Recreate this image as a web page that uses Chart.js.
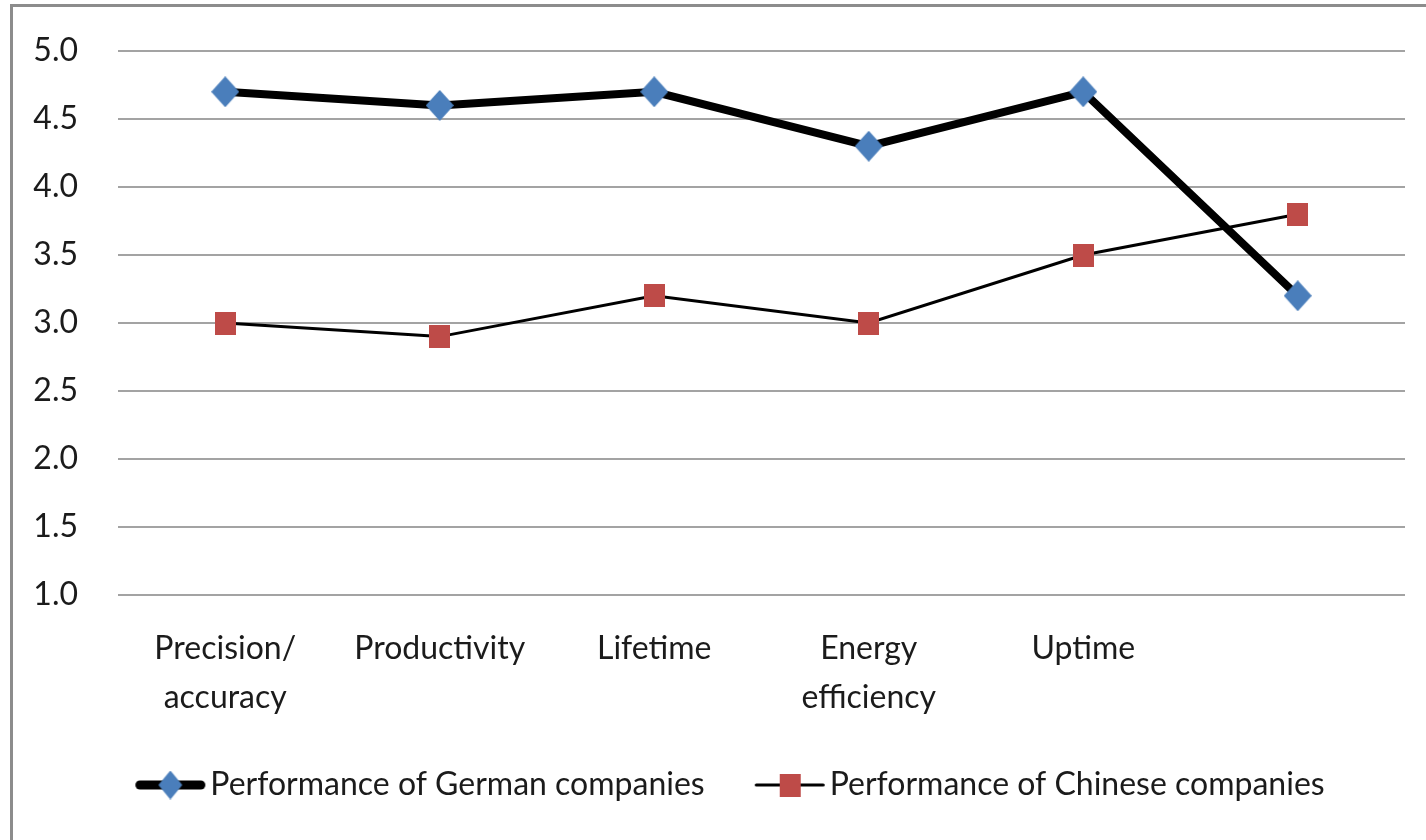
<!DOCTYPE html>
<html>
<head>
<meta charset="utf-8">
<title>Performance comparison</title>
<script src="https://cdn.jsdelivr.net/npm/chart.js@4/dist/chart.umd.min.js"></script>
<style>
  html, body { margin: 0; padding: 0; background: #ffffff; }
  #wrap { position: absolute; left: 0; top: 0; width: 1426px; height: 840px; }
</style>
</head>
<body>
<div id="wrap"><canvas id="chart"></canvas></div>
<script>
// Categories along the x axis (last slot is unlabeled)
const categories = [["Precision/", "accuracy"], "Productivity", "Lifetime", ["Energy", "efficiency"], "Uptime", ""];
// Series values
const germanScores = [4.7, 4.6, 4.7, 4.3, 4.7, 3.2];
const chineseScores = [3.0, 2.9, 3.2, 3.0, 3.5, 3.8];
// Y axis tick values
const yTickValues = [1.0, 1.5, 2.0, 2.5, 3.0, 3.5, 4.0, 4.5, 5.0];
// Series names
const seriesNames = ["Performance of German companies", "Performance of Chinese companies"];

const FONT = 'Lato, "Liberation Sans", Arial, sans-serif';
const TEXT = '#1b1b1b';
const BLUE = '#4a7ebb';
const RED = '#be4b48';

// Legend geometry: box width reserved per entry, swatch line length
const LEGEND_BOX = 104;
const SWATCH_LINE = 72;

function diamondMarker(w, h) {
  const c = document.createElement('canvas');
  c.width = w; c.height = h;
  const g = c.getContext('2d');
  g.fillStyle = BLUE;
  g.beginPath();
  g.moveTo(w / 2, 0); g.lineTo(w, h / 2); g.lineTo(w / 2, h); g.lineTo(0, h / 2);
  g.closePath(); g.fill();
  return c;
}
function squareMarker(w, h) {
  const c = document.createElement('canvas');
  c.width = w; c.height = h;
  const g = c.getContext('2d');
  g.fillStyle = RED;
  g.fillRect(0, 0, w, h);
  return c;
}
// Legend swatch: line segment with the marker in its middle, right-aligned
// in an image slightly wider than the legend box so it sits close to the text
function legendSwatch(lineW, marker) {
  const w = LEGEND_BOX + 24, h = 32;
  const gap = w - SWATCH_LINE;
  const c = document.createElement('canvas');
  c.width = w; c.height = h;
  const g = c.getContext('2d');
  g.strokeStyle = '#000';
  g.lineWidth = lineW;
  g.lineCap = 'round';
  g.beginPath();
  g.moveTo(gap + lineW / 2 + 1, h / 2); g.lineTo(w - lineW / 2 - 1, h / 2);
  g.stroke();
  g.drawImage(marker, gap + (SWATCH_LINE - marker.width) / 2, (h - marker.height) / 2);
  return c;
}

const diamond = diamondMarker(28, 31);
const square = squareMarker(21, 23);
const swatches = [legendSwatch(9, diamondMarker(24, 29)), legendSwatch(3, squareMarker(21, 23))];

const framePlugin = {
  id: 'frame',
  beforeDraw(chart) {
    const ctx = chart.ctx;
    ctx.save();
    ctx.fillStyle = '#ffffff';
    ctx.fillRect(0, 0, chart.width, chart.height);
    ctx.strokeStyle = '#8c8c8c';
    ctx.lineWidth = 3;
    ctx.beginPath();
    ctx.moveTo(11.5, chart.height);
    ctx.lineTo(11.5, 5.5);
    ctx.lineTo(chart.width, 5.5);
    ctx.stroke();
    ctx.restore();
  }
};

new Chart(document.getElementById('chart'), {
  type: 'line',
  data: {
    labels: categories,
    datasets: [
      {
        label: seriesNames[0],
        data: germanScores,
        borderColor: '#000000',
        borderWidth: 8,
        pointStyle: diamond,
        tension: 0
      },
      {
        label: seriesNames[1],
        data: chineseScores,
        borderColor: '#000000',
        borderWidth: 3,
        pointStyle: square,
        tension: 0
      }
    ]
  },
  options: {
    responsive: true,
    maintainAspectRatio: false,
    animation: false,
    events: [],
    layout: { padding: { top: 51, right: 21, left: 10, bottom: 29 } },
    scales: {
      x: {
        offset: true,
        grid: { display: false, drawTicks: false },
        border: { display: false },
        afterFit(scale) { scale.height = 169; },
        ticks: {
          color: TEXT,
          padding: 29,
          maxRotation: 0,
          autoSkip: false,
          font: { family: FONT, size: 32, lineHeight: 1.53 }
        }
      },
      y: {
        min: 1,
        max: 5,
        grid: { color: '#a3a3a3', lineWidth: 2, drawTicks: false },
        border: { display: false },
        afterFit(scale) {
          scale.width = 108;
          scale.paddingTop = 20;
          scale.paddingBottom = 20;
        },
        afterBuildTicks(scale) { scale.ticks = yTickValues.map(v => ({ value: v })); },
        ticks: {
          color: TEXT,
          padding: 40,
          font: { family: FONT, size: 32 },
          callback: v => Number(v).toFixed(1)
        }
      }
    },
    plugins: {
      tooltip: { enabled: false },
      legend: {
        position: 'bottom',
        labels: {
          color: TEXT,
          usePointStyle: true,
          pointStyleWidth: LEGEND_BOX,
          padding: 5,
          font: { family: FONT, size: 32 },
          generateLabels(chart) {
            return chart.data.datasets.map((ds, i) => ({
              text: ds.label,
              pointStyle: swatches[i],
              fillStyle: 'transparent',
              strokeStyle: 'transparent',
              lineWidth: 0,
              fontColor: TEXT,
              datasetIndex: i,
              hidden: false
            }));
          }
        }
      }
    }
  },
  plugins: [framePlugin]
});
</script>
</body>
</html>
